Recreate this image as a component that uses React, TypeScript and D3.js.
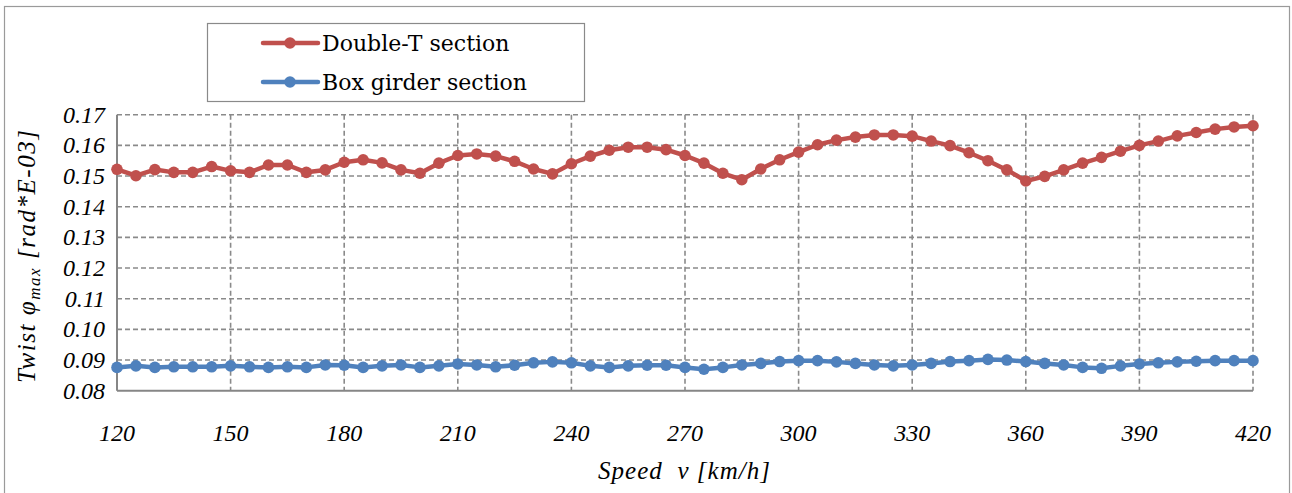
import React from "react";
import * as d3 from "d3";

const speeds: number[] = d3.range(120, 421, 5);

const doubleT: number[] = [
  0.1522, 0.1501, 0.1521, 0.1512, 0.1512, 0.1531, 0.1517, 0.1512, 0.1536, 0.1536,
  0.1512, 0.152, 0.1545, 0.1553, 0.1543, 0.152, 0.1509, 0.1542, 0.1567, 0.1572,
  0.1565, 0.1548, 0.1523, 0.1507, 0.154, 0.1565, 0.1584, 0.1594, 0.1594, 0.1586,
  0.1567, 0.1542, 0.1509, 0.1488, 0.1523, 0.1553, 0.1578, 0.1602, 0.1617, 0.1627,
  0.1634, 0.1634, 0.163, 0.1614, 0.1599, 0.1576, 0.155, 0.152, 0.1484, 0.1499,
  0.152, 0.1542, 0.1561, 0.1581, 0.16, 0.1614, 0.1631, 0.1642, 0.1653, 0.166,
  0.1664,
];

const boxGirder: number[] = [
  0.0876, 0.0881, 0.0876, 0.0878, 0.0878, 0.0878, 0.0881, 0.0878, 0.0876, 0.0878,
  0.0876, 0.0884, 0.0883, 0.0876, 0.0881, 0.0884, 0.0876, 0.0881, 0.0887, 0.0884,
  0.0878, 0.0883, 0.0891, 0.0894, 0.0891, 0.0881, 0.0876, 0.0881, 0.0883, 0.0883,
  0.0876, 0.087, 0.0876, 0.0884, 0.0889, 0.0895, 0.0898, 0.0898, 0.0894, 0.0889,
  0.0884, 0.0881, 0.0884, 0.0889, 0.0895, 0.0898, 0.0902, 0.09, 0.0895, 0.0889,
  0.0884, 0.0876, 0.0873, 0.0881, 0.0887, 0.0891, 0.0894, 0.0896, 0.0898, 0.0898,
  0.0898,
];

const xTicks: number[] = [120, 150, 180, 210, 240, 270, 300, 330, 360, 390, 420];
const yTicks: number[] = [0.08, 0.09, 0.1, 0.11, 0.12, 0.13, 0.14, 0.15, 0.16, 0.17];

const seriesNames: string[] = ["Double-T section", "Box girder section"];
const seriesColors: string[] = ["#C0504D", "#4F81BD"];

const W = 1292;
const H = 493;
const left = 117;
const right = 1253;
const top = 114.7;
const bottom = 390.7;

export default function App() {
  const x = d3.scaleLinear().domain([120, 420]).range([left, right]);
  const y = d3.scaleLinear().domain([0.08, 0.17]).range([bottom, top]);
  const line = d3
    .line<number>()
    .x((_, i) => x(speeds[i]))
    .y((d) => y(d));
  const series = [doubleT, boxGirder];
  const font = "'DejaVu Serif', serif";
  const ifont = "'Liberation Serif', serif";
  const gridColor = "#8a8a8a";

  return (
    <svg
      width={W}
      height={H}
      style={{ position: "absolute", left: 0, top: 0, background: "#fff" }}
    >
      <rect x={0} y={0} width={W} height={H} fill="#fff" />
      <rect x={4.5} y={6.5} width={1285} height={520} fill="none" stroke="#9a9a9a" strokeWidth={1.2} />

      {/* grid */}
      {yTicks.slice(1).map((t) => (
        <line
          key={"gy" + t}
          x1={left}
          x2={right}
          y1={y(t)}
          y2={y(t)}
          stroke={gridColor}
          strokeWidth={1.6}
          strokeDasharray="5,3"
        />
      ))}
      {xTicks.slice(1).map((t) => (
        <line
          key={"gx" + t}
          x1={x(t)}
          x2={x(t)}
          y1={top}
          y2={bottom}
          stroke={gridColor}
          strokeWidth={1.6}
          strokeDasharray="5,3"
        />
      ))}
      {/* axes */}
      <line x1={left} x2={left} y1={top} y2={bottom} stroke="#868686" strokeWidth={2} />
      <line x1={left} x2={right} y1={bottom} y2={bottom} stroke="#868686" strokeWidth={2} />

      {/* y tick labels */}
      {yTicks.map((t) => (
        <text
          key={"yl" + t}
          x={left - 12}
          y={y(t) + 8}
          textAnchor="end"
          fontFamily={ifont}
          fontStyle="italic"
          fontSize={24}
          fill="#000"
        >
          {d3.format(".2f")(t)}
        </text>
      ))}
      {/* x tick labels */}
      {xTicks.map((t) => (
        <text
          key={"xl" + t}
          x={x(t)}
          y={441}
          textAnchor="middle"
          fontFamily={ifont}
          fontStyle="italic"
          fontSize={24}
          fill="#000"
        >
          {t}
        </text>
      ))}

      {/* axis titles */}
      <text
        x={598}
        y={479}
        fontFamily={ifont}
        fontStyle="italic"
        fontSize={25}
        fill="#000"
        textLength={172}
        lengthAdjust="spacing"
        style={{ whiteSpace: "pre" }}
      >
        {"Speed  v [km/h]"}
      </text>
      <text
        transform={`translate(35, 383) rotate(-90)`}
        fontFamily={ifont}
        fontStyle="italic"
        fontSize={25}
        fill="#000"
        textLength={253}
        lengthAdjust="spacing"
      >
        <tspan>Twist φ</tspan>
        <tspan fontSize={17} dy={5}>max</tspan>
        <tspan dy={-5}> [rad*E-03]</tspan>
      </text>

      {/* series */}
      {series.map((s, si) => (
        <g key={"s" + si}>
          <path d={line(s) || ""} fill="none" stroke={seriesColors[si]} strokeWidth={4.5} strokeLinejoin="round" />
          {s.map((v, i) => (
            <circle key={i} cx={x(speeds[i])} cy={y(v)} r={5.8} fill={seriesColors[si]} />
          ))}
        </g>
      ))}

      {/* legend */}
      <rect x={207.5} y={23.5} width={377} height={78} fill="#fff" stroke="#8a8a8a" strokeWidth={1.2} />
      {seriesNames.map((n, i) => {
        const ly = 43 + i * 39;
        return (
          <g key={"lg" + i}>
            <line x1={263} x2={318} y1={ly} y2={ly} stroke={seriesColors[i]} strokeWidth={4.5} strokeLinecap="round" />
            <circle cx={290} cy={ly} r={5.8} fill={seriesColors[i]} />
            <text x={322} y={ly + 8} fontFamily={font} fontSize={22} fill="#000">
              {n}
            </text>
          </g>
        );
      })}
    </svg>
  );
}
